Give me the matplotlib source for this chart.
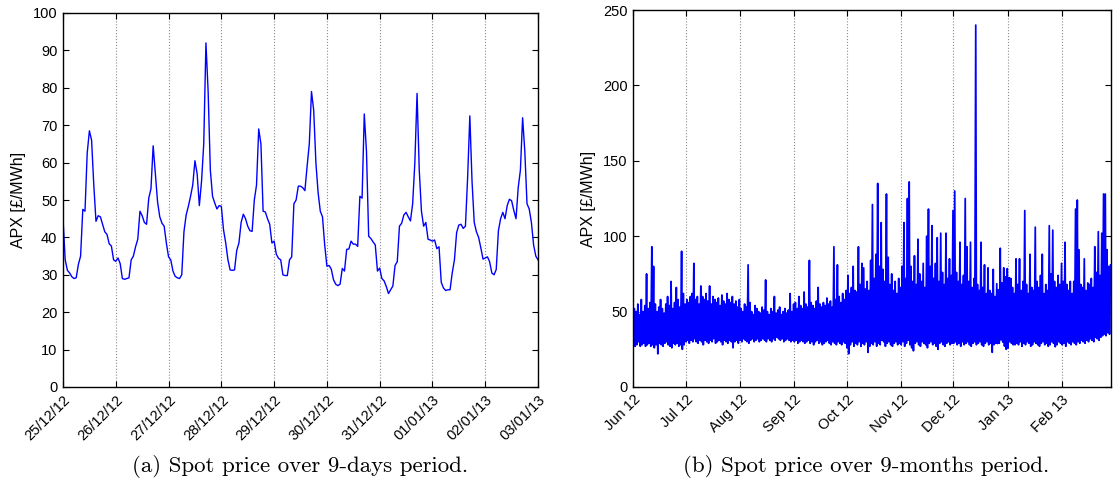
import numpy as np
import matplotlib
matplotlib.use("Agg")
import matplotlib.pyplot as plt
import matplotlib.dates as mdates

plt.rcParams["font.family"] = ["Liberation Sans", "DejaVu Sans"]

# (a) hourly APX price, 25/12/12 00:00 -> 03/01/13 00:00
apx_hourly = [
    45, 34, 31.2, 30.5, 29.5, 29, 29.2, 32.8, 35, 47.5, 47, 62.5, 68.5, 66, 54, 44.3, 45.8, 45.5, 43.5, 41.5, 40.8, 38.3, 37.7, 34,  # 25/12
    33.6, 34.5, 33, 29, 28.8, 29, 29.2, 34, 35, 37.5, 39.5, 47, 45.8, 44, 43.5, 50.5, 53, 64.5, 57, 49.5, 45.5, 43.8, 43, 38.5,  # 26/12
    34.8, 34, 31, 29.6, 29.2, 29, 30, 41.5, 46, 48.3, 51, 54, 60.5, 57, 48.5, 55, 65, 92, 79, 58, 51, 49.2, 47.6, 48.5,  # 27/12
    48.3, 42, 38.5, 34, 31.3, 31.2, 31.3, 36.5, 38.5, 44, 46.2, 45, 43, 41.8, 41.6, 50, 54, 69, 65, 47, 46.8, 45, 43.5, 38.5,  # 28/12
    39, 35.5, 34.4, 34, 30, 29.8, 29.8, 34, 34.8, 49, 50, 53.7, 53.7, 53.3, 52.5, 59, 65, 79, 74, 60, 52, 47, 45.5, 38,  # 29/12
    32.3, 32.5, 31.5, 28.7, 27.5, 27.1, 27.5, 31.7, 31, 36.8, 36.9, 39, 38.2, 38.2, 37.6, 51, 50.5, 73, 63, 40.3, 39.7, 38.8, 38, 31,  # 30/12
    31.8, 29, 28.4, 26.9, 25, 26, 27, 32.5, 33.5, 43, 43.8, 46, 46.7, 45.5, 44.4, 49, 60, 78.5, 58, 47, 43, 44, 39.5, 39.3,  # 31/12
    39, 39.3, 37, 37.5, 28, 26.5, 25.8, 26, 26, 30.5, 34, 41.3, 43.3, 43.5, 42.4, 43, 56, 72.5, 55, 44, 41.5, 40, 37.2, 34.2,  # 01/01
    34.5, 34.8, 33.5, 30.5, 30, 31.4, 41.8, 45, 46.7, 45, 48.5, 50.2, 49.8, 47.2, 45, 53.3, 58, 72, 63, 49, 47.6, 44, 38, 35,  # 02/01
    34,  # 03/01 00:00
]

# (b) daily high / low of the APX price, 01/06/12 -> 28/02/13
daily_high = [
    52, 50, 55, 48, 58, 50, 54, 75, 52, 56, 93, 80, 55, 50, 53, 58, 52, 49, 55, 60, 54, 70, 52, 56, 66, 58, 53, 90, 62, 55,  # Jun
    58, 56, 60, 62, 82, 58, 60, 55, 67, 60, 58, 62, 57, 67, 55, 60, 58, 56, 59, 54, 61, 57, 55, 62, 58, 56, 60, 55, 57, 53, 58,  # Jul
    52, 50, 55, 53, 81, 56, 50, 48, 54, 52, 50, 49, 53, 51, 71, 50, 48, 52, 50, 60, 49, 51, 53, 48, 50, 52, 49, 51, 62, 50, 55,  # Aug
    56, 52, 60, 54, 52, 63, 55, 53, 84, 56, 54, 52, 57, 66, 55, 53, 56, 54, 59, 55, 57, 53, 93, 58, 81, 60, 56, 62, 58, 64,  # Sep
    74, 62, 66, 80, 64, 63, 93, 68, 82, 79, 65, 70, 64, 84, 121, 72, 88, 135, 80, 109, 78, 70, 128, 86, 68, 75, 64, 70, 62, 72, 66,  # Oct
    80, 109, 72, 125, 136, 80, 70, 87, 68, 98, 75, 70, 82, 66, 100, 118, 80, 107, 72, 82, 99, 70, 102, 76, 68, 102, 72, 85, 74, 117,  # Nov
    130, 76, 70, 96, 68, 74, 125, 93, 70, 96, 66, 72, 240, 68, 64, 96, 66, 81, 62, 79, 64, 62, 78, 60, 68.5, 64.5, 92, 69, 79, 73, 78.5,  # Dec
    72.5, 72, 66, 62, 85, 68, 85, 64, 70, 117, 68, 62, 88, 66, 64, 106, 70, 66, 74, 88, 62, 68, 64, 107, 75, 104, 70, 66, 74, 68, 82,  # Jan
    70, 96, 68, 64, 70, 62, 70, 118, 124, 91, 68, 66, 85, 64, 69, 68, 72, 66, 93, 76, 103, 74, 102, 128, 128, 91, 80, 81,  # Feb
]
daily_low = [
    29, 27, 28, 30, 27, 28, 29, 27, 28, 29, 27, 28, 26, 28, 22, 29, 28, 27, 29, 30, 28, 27, 26, 29, 28, 29, 27, 28, 25, 28,  # Jun
    30, 31, 29, 31, 30, 32, 30, 29, 31, 30, 28, 31, 30, 29, 31, 30, 32, 29, 30, 31, 30, 28, 31, 30, 29, 31, 30, 26, 30, 31, 29,  # Jul
    31, 30, 32, 31, 30, 29, 31, 32, 30, 31, 32, 30, 31, 32, 31, 30, 32, 31, 30, 32, 31, 33, 32, 31, 32, 30, 31, 32, 31, 30, 31,  # Aug
    30, 31, 29, 30, 31, 30, 29, 30, 31, 29, 30, 28, 30, 31, 29, 30, 28, 29, 30, 31, 29, 28, 30, 29, 28, 30, 29, 28, 30, 29,  # Sep
    26, 22, 28, 30, 27, 29, 28, 30, 27, 29, 28, 30, 23, 27, 29, 28, 30, 27, 29, 28, 31, 30, 27, 29, 30, 28, 27, 29, 30, 28, 29,  # Oct
    28, 30, 27, 29, 31, 28, 26, 24, 29, 30, 28, 27, 30, 29, 28, 26, 29, 30, 28, 29, 27, 25, 29, 30, 28, 27, 29, 30, 28, 29,  # Nov
    29, 30, 28, 29, 27, 30, 28, 29, 30, 28, 27, 29, 30, 28, 29, 30, 28, 27, 29, 30, 28, 29, 23, 28, 29, 28.8, 29, 31.2, 29.8, 27.1, 25,  # Dec
    25.8, 30, 29, 28, 28, 29, 28, 30, 27, 29, 28, 30, 29, 27, 28, 30, 29, 28, 27, 29, 30, 28, 29, 27, 28, 30, 29, 26.7, 28, 30, 29,  # Jan
    28, 29, 27, 30, 29, 28, 30, 29, 28, 30, 29, 31, 30, 29, 31, 30, 32, 31, 30, 33, 32, 31, 33, 34, 35, 34, 36, 35,  # Feb
]

captions = ["(a) Spot price over 9-days period.", "(b) Spot price over 9-months period."]
ylab = "APX [£/MWh]"

t9 = np.datetime64("2012-12-25T00:00") + np.arange(len(apx_hourly)) * np.timedelta64(1, "h")

days = np.datetime64("2012-06-01") + np.arange(len(daily_high))
t_lo = (days + np.timedelta64(4, "h")).astype("datetime64[h]")
t_hi = (days + np.timedelta64(18, "h")).astype("datetime64[h]")
t9m = np.stack([t_lo, t_hi], axis=1).ravel()
v9m = np.stack([np.array(daily_low, float), np.array(daily_high, float)], axis=1).ravel()


def style(ax):
    ax.tick_params(direction="in", top=True, right=True, length=4, width=0.8,
                   labelsize=10.5, pad=4)
    ax.grid(True, axis="x", linestyle=":", color="0.55", linewidth=0.8)
    for s in ax.spines.values():
        s.set_linewidth(1.0)
    plt.setp(ax.get_xticklabels(), rotation=45, ha="right", rotation_mode="anchor")
    ax.set_ylabel(ylab, fontsize=11.5, labelpad=5)


fig = plt.figure(figsize=(11.13, 4.82), dpi=100)
ax1 = fig.add_axes([63 / 1113, 1 - 387 / 482, 475 / 1113, 374 / 482])
ax2 = fig.add_axes([633 / 1113, 1 - 387 / 482, 478 / 1113, 377 / 482])

ax1.plot(t9, apx_hourly, color="#0000ff", lw=1.0)
ax1.set_xlim(np.datetime64("2012-12-25"), np.datetime64("2013-01-03"))
ax1.set_ylim(0, 100)
ax1.set_yticks(np.arange(0, 101, 10))
ax1.xaxis.set_major_locator(mdates.DayLocator())
ax1.xaxis.set_major_formatter(mdates.DateFormatter("%d/%m/%y"))
style(ax1)

ax2.plot(t9m, v9m, color="#0000ff", lw=1.25)
ax2.set_xlim(np.datetime64("2012-06-01"), np.datetime64("2013-03-01"))
ax2.set_ylim(0, 250)
ax2.set_yticks(np.arange(0, 251, 50))
ax2.xaxis.set_major_locator(mdates.MonthLocator(bymonth=range(1, 13)))
ax2.xaxis.set_major_formatter(mdates.DateFormatter("%b %y"))
style(ax2)
ax2.set_xticks(ax2.get_xticks()[:-1])
plt.setp(ax2.get_xticklabels(), rotation=45, ha="right", rotation_mode="anchor")

fig.text(300 / 1113, 1 - 466 / 482, captions[0], family="cmr10", fontsize=16.5,
         ha="center", va="center")
fig.text(866 / 1113, 1 - 466 / 482, captions[1], family="cmr10", fontsize=16.5,
         ha="center", va="center")

fig.savefig("out.png", dpi=100)
